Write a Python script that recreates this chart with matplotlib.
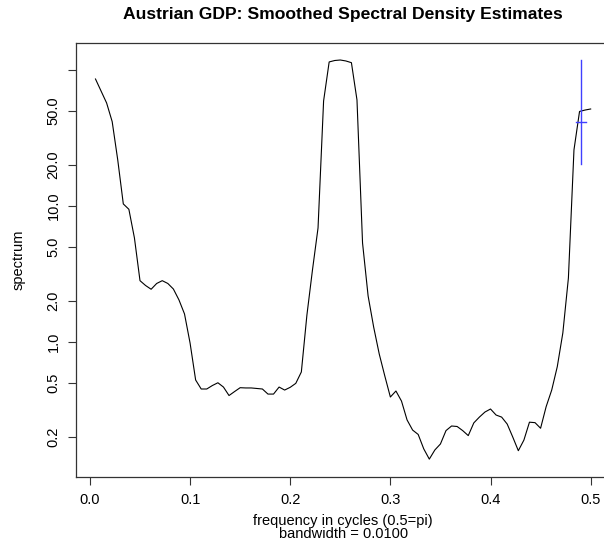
import matplotlib
matplotlib.use("Agg")
import matplotlib.pyplot as plt
import numpy as np

# smoothed periodogram, frequencies k/180 for k = 1..90
n_freq = 180
freq = np.arange(1, 91) / n_freq
spec = [85.4, 69.7, 56.9, 41.5, 21.7, 10.3, 9.41, 5.79, 2.81, 2.59,
        2.43, 2.68, 2.81, 2.68, 2.44, 2.03, 1.60, 0.978, 0.523, 0.449,
        0.449, 0.476, 0.499, 0.464, 0.402, 0.430, 0.459, 0.457, 0.457, 0.453,
        0.449, 0.412, 0.412, 0.464, 0.441, 0.462, 0.494, 0.599, 1.57, 3.37,
        6.86, 58.9, 114.0, 116.8, 117.8, 115.9, 112.6, 59.9, 5.32, 2.17,
        1.28, 0.812, 0.560, 0.392, 0.434, 0.366, 0.266, 0.224, 0.208, 0.163,
        0.137, 0.160, 0.177, 0.222, 0.240, 0.238, 0.222, 0.204, 0.253, 0.279,
        0.304, 0.320, 0.289, 0.279, 0.248, 0.199, 0.158, 0.189, 0.256, 0.254,
        0.231, 0.333, 0.441, 0.655, 1.16, 2.94, 25.7, 49.3, 50.5, 51.4]
bandwidth = 0.0100
conf_lim = [0.49, 2.84]

ytick_vals = [0.2, 0.5, 1, 2, 5, 10, 20, 50, 100]
ytick_labels = ["0.2", "0.5", "1.0", "2.0", "5.0", "10.0", "20.0", "50.0", ""]
xtick_vals = [0.0, 0.1, 0.2, 0.3, 0.4, 0.5]

plt.rcParams['font.family'] = ['Liberation Sans', 'DejaVu Sans']

W, H = 604, 556
fig = plt.figure(figsize=(W / 100, H / 100), dpi=100)
# R-style plot region; right edge runs a little past the picture
ax = fig.add_axes([0.1253, 0.1426, 0.8854, 0.78])

ax.plot(freq, spec, color='black', lw=0.8)

# confidence interval / bandwidth marker
conf_y = max(spec) / conf_lim[1]
conf_x = max(freq) - bandwidth
ax.plot([conf_x, conf_x], [conf_y * conf_lim[0], conf_y * conf_lim[1]], color='#4040ff', lw=1.0)
ax.plot([conf_x - bandwidth / 2, conf_x + bandwidth / 2], [conf_y, conf_y], color='#4040ff', lw=1.0)

ax.set_yscale('log')
ax.set_ylim(0.1017, 157)
fmin = freq[0]
span = 0.5 - fmin
ax.set_xlim(fmin - 0.04 * span, 0.5 + 0.04 * span)

ax.set_yticks(ytick_vals)
ax.set_yticklabels(ytick_labels, rotation=90, va='center')
ax.yaxis.set_minor_locator(matplotlib.ticker.NullLocator())
ax.set_xticks(xtick_vals)
ax.set_xticklabels(["0.0", "0.1", "0.2", "0.3", "0.4", "0.5"])
ax.tick_params(axis='both', length=5.5, width=0.8, labelsize=10.5, color='#333333')
ax.tick_params(axis='x', pad=6.5)
ax.tick_params(axis='y', pad=5.5)

for s in ax.spines.values():
    s.set_linewidth(0.9)
    s.set_color('#333333')

cx = (75.7 + 610.5) / 2 / W
fig.text(cx, 1 - 14 / H, 'Austrian GDP: Smoothed Spectral Density Estimates',
         fontsize=12.6, fontweight='bold', ha='center', va='center')
fig.text(cx, 1 - 521 / H, 'frequency in cycles (0.5=pi)', fontsize=10.5,
         ha='center', va='center')
fig.text(cx, 1 - 534 / H, 'bandwidth = 0.0100', fontsize=10.5,
         ha='center', va='center')
fig.text(19 / W, 1 - 260 / H, 'spectrum', fontsize=10.5, rotation=90,
         ha='center', va='center')

fig.savefig('out.png', dpi=100)
